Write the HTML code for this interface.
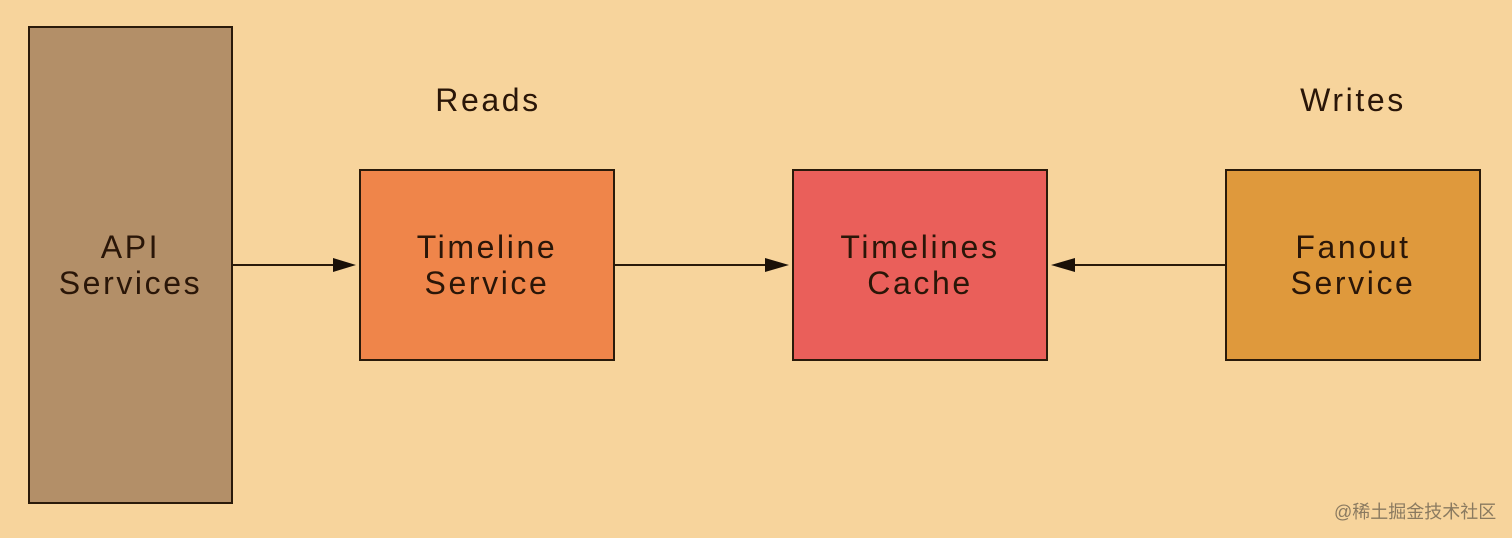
<!DOCTYPE html>
<html><head><style>
body{margin:0;width:1512px;height:538px;background:#f7d49c;position:relative;overflow:hidden;font-family:"Liberation Sans",sans-serif;}
.b{position:absolute;box-sizing:border-box;border:2px solid #2a1a0a;display:flex;align-items:center;justify-content:center;text-align:center;font-size:32px;letter-spacing:2.6px;line-height:36px;color:#2a1608;}
.l{position:absolute;font-size:32px;letter-spacing:2.6px;color:#2a1608;transform:translateX(-50%);}
</style></head><body>
<div class="b" style="left:28px;top:26px;width:205px;height:478px;background:#b38f68">API<br>Services</div>
<div class="b" style="left:359px;top:169px;width:256px;height:192px;background:#ef854a">Timeline<br>Service</div>
<div class="b" style="left:792px;top:169px;width:256px;height:192px;background:#ea5f5a">Timelines<br>Cache</div>
<div class="b" style="left:1225px;top:169px;width:256px;height:192px;background:#df993c">Fanout<br>Service</div>
<div class="l" style="left:488px;top:82px">Reads</div>
<div class="l" style="left:1353px;top:82px">Writes</div>
<svg width="1512" height="538" style="position:absolute;left:0;top:0">
<g stroke="#2a1a0a" stroke-width="2">
<line x1="233" y1="265" x2="340" y2="265"/>
<line x1="615" y1="265" x2="772" y2="265"/>
<line x1="1070" y1="265" x2="1225" y2="265"/>
</g>
<g fill="#1a1008">
<polygon points="333,258 356,265 333,272"/>
<polygon points="765,258 789,265 765,272"/>
<polygon points="1075,258 1051,265 1075,272"/>
</g>
</svg>
<div style="position:absolute;left:1334px;top:498px;font-size:18px;color:#8a7a60;font-family:'Liberation Sans','Noto Sans CJK SC',sans-serif">@稀土掘金技术社区</div>
</body></html>
